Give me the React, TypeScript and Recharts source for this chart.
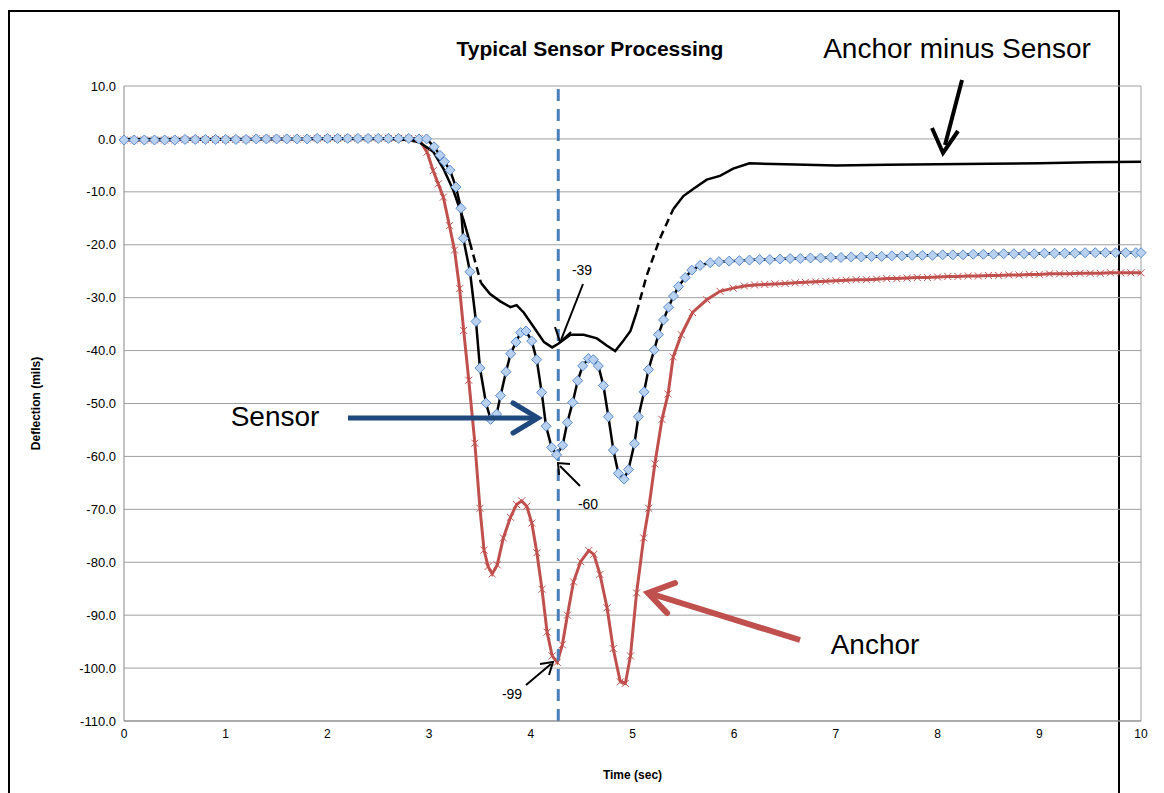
import React from "react";
import { LineChart, Line, XAxis, YAxis, CartesianGrid, ReferenceLine } from "recharts";

const flatT = [0,0.1,0.2,0.3,0.4,0.5,0.6,0.7,0.8,0.9,1,1.1,1.2,1.3,1.4,1.5,1.6,1.7,1.8,1.9,2,2.1,2.2,2.3,2.4,2.5,2.6,2.7,2.8,2.9];
const flatV = [0,0,0,0,0,0,0.1,0.1,0.1,0.1,0.1,0.1,0.1,0.2,0.2,0.2,0.2,0.2,0.2,0.3,0.3,0.3,0.3,0.3,0.3,0.3,0.3,0.3,0.3,0.2];

const sensorT = [2.975,3.05,3.107,3.15,3.205,3.264,3.313,3.336,3.402,3.461,3.5,3.559,3.605,3.664,3.703,3.756,3.802,3.854,3.9,3.953,4.009,4.058,4.107,4.15,4.205,4.254,4.313,4.359,4.412,4.461,4.51,4.566,4.615,4.664,4.714,4.763,4.812,4.861,4.917,4.96,5.019,5.058,5.114,5.157,5.213,5.255,5.305,5.354,5.403,5.452,5.518,5.583,5.665,5.764,5.85,5.95,6.05,6.15,6.25,6.35,6.45,6.55,6.65,6.75,6.85,6.95,7.05,7.15,7.25,7.35,7.45,7.55,7.65,7.75,7.85,7.95,8.05,8.15,8.25,8.35,8.45,8.55,8.65,8.75,8.85,8.95,9.05,9.15,9.25,9.35,9.45,9.55,9.65,9.75,9.85,9.95,10];
const sensorV = [0,-1.5,-3.1,-4.3,-5.9,-9.1,-13.1,-18.8,-25.1,-34.5,-43.3,-49.9,-53.0,-52.0,-48.5,-44.0,-40.6,-38.4,-36.6,-36.3,-38.2,-41.7,-47.9,-54.3,-58.3,-59.7,-57.9,-53.6,-49.8,-45.7,-42.9,-41.5,-41.7,-42.9,-46.6,-52.5,-58.8,-63.2,-64.3,-62.5,-57.6,-52.5,-47.8,-43.6,-39.9,-37.0,-34.2,-31.8,-29.7,-27.9,-26.2,-24.8,-23.9,-23.4,-23.2,-23.1,-23.0,-22.9,-22.8,-22.8,-22.7,-22.6,-22.6,-22.5,-22.5,-22.4,-22.4,-22.3,-22.3,-22.2,-22.2,-22.1,-22.1,-22.0,-22.0,-22.0,-21.9,-21.9,-21.9,-21.8,-21.8,-21.8,-21.7,-21.7,-21.7,-21.7,-21.6,-21.6,-21.6,-21.6,-21.5,-21.5,-21.5,-21.5,-21.5,-21.5,-21.5];

const anchorT = [2.9,2.98,3.04,3.09,3.14,3.2,3.25,3.3,3.34,3.39,3.45,3.5,3.54,3.58,3.62,3.67,3.73,3.8,3.86,3.91,3.96,4.01,4.06,4.11,4.16,4.21,4.26,4.31,4.36,4.42,4.49,4.57,4.62,4.68,4.75,4.81,4.88,4.93,4.98,5.04,5.11,5.16,5.22,5.29,5.35,5.4,5.48,5.59,5.73,5.86,5.99,6.1,6.2,6.3,6.4,6.5,6.6,6.7,6.8,6.9,7,7.1,7.2,7.3,7.4,7.5,7.6,7.7,7.8,7.9,8,8.1,8.2,8.3,8.4,8.5,8.6,8.7,8.8,8.9,9,9.1,9.2,9.3,9.4,9.5,9.6,9.7,9.8,9.9,10];
const anchorV = [0,-2.5,-6,-8.5,-11,-16.4,-21,-28.3,-36.2,-45.6,-57.5,-69.8,-77.7,-80.8,-82.2,-80.5,-75.4,-71.5,-69.1,-68.4,-69.4,-72.6,-78.2,-85.1,-93.2,-97.7,-98.9,-95.6,-90.0,-83.7,-79.9,-77.8,-78.5,-82.3,-88.6,-96.3,-102.6,-102.9,-97.7,-85.8,-75.4,-69.8,-61.4,-53.0,-48.2,-41.2,-37.0,-32.8,-30.4,-28.8,-28.2,-27.8,-27.6,-27.5,-27.4,-27.3,-27.2,-27.1,-27.0,-26.9,-26.8,-26.7,-26.6,-26.6,-26.5,-26.4,-26.4,-26.3,-26.2,-26.2,-26.1,-26.0,-26.0,-25.9,-25.9,-25.8,-25.8,-25.7,-25.7,-25.6,-25.6,-25.5,-25.5,-25.5,-25.4,-25.4,-25.4,-25.3,-25.3,-25.3,-25.3];

const diffT = [0,1,2,2.6,2.8,2.91,3.04,3.14,3.24,3.34,3.4,null,3.51,3.6,3.7,3.8,3.86,3.93,4.03,4.13,4.21,4.27,4.39,4.52,4.65,4.75,4.83,4.9,4.98,5.04,null,5.4,5.5,5.6,5.73,5.86,5.99,6.15,6.5,7,7.5,8,8.5,9,9.5,10];
const diffV = [0,0,0,0,-0.2,-0.7,-2.4,-5.6,-9.8,-15.4,-19.5,null,-27.2,-29.3,-30.7,-31.8,-31.4,-32.8,-35.6,-38.4,-39.4,-38.7,-37.0,-37.0,-37.7,-39.1,-40.1,-38.4,-36.3,-32.8,null,-13.3,-10.8,-9.4,-7.7,-7.0,-5.6,-4.6,-4.8,-5.0,-4.9,-4.8,-4.7,-4.6,-4.4,-4.3];
const dashT = [3.4,3.47,3.51,5.04,5.14,5.27,5.4];
const dashV = [-19.5,-24.4,-27.2,-32.8,-25.8,-18.8,-13.3];

const yTicks = [10,0,-10,-20,-30,-40,-50,-60,-70,-80,-90,-100,-110];
const xTicks = [0,1,2,3,4,5,6,7,8,9,10];
const markT = 4.27;

const zip = (ts: any[], vs: any[]) => ts.map((t, i) => ({ t, v: vs[i] }));
const sensorData = [...zip(flatT, flatV.map(v => v - 0.2)), ...zip(sensorT, sensorV)];
const anchorData = [...zip(flatT, flatV.map(v => v - 0.2)), ...zip(anchorT, anchorV)];
const diffSolid = zip(diffT, diffV).map((d, i) => (d.t === null ? { t: (diffT[i - 1] as number) + 0.01, v: null } : d));
const dashData = [...zip(dashT.slice(0, 3), dashV.slice(0, 3)), { t: 4, v: null }, ...zip(dashT.slice(3), dashV.slice(3))];

const Diamond = (p: any) => {
  if (p.cx == null || p.cy == null || p.value == null) return null;
  const s = 5;
  return <path key={p.index} d={`M${p.cx},${p.cy - s}L${p.cx + s},${p.cy}L${p.cx},${p.cy + s}L${p.cx - s},${p.cy}Z`} fill="#b9d1f0" stroke="#5b8ccc" strokeWidth={1} />;
};
const Cross = (p: any) => {
  if (p.cx == null || p.cy == null || p.value == null) return null;
  const s = 3.5;
  return <path key={p.index} d={`M${p.cx - s},${p.cy - s}L${p.cx + s},${p.cy + s}M${p.cx - s},${p.cy + s}L${p.cx + s},${p.cy - s}`} stroke="#c0504d" strokeWidth={1} />;
};

const font = "'Liberation Sans', Arial, sans-serif";

export default function App() {
  return (
    <div style={{ position: "absolute", left: 0, top: 0, width: 1164, height: 793, background: "#fff", fontFamily: font, overflow: "hidden" }}>
      <div style={{ position: "absolute", left: 8, top: 10, width: 1108, height: 800, border: "2px solid #000" }} />
      <div style={{ position: "absolute", left: 0, top: 0 }}>
        <LineChart width={1164} height={793} margin={{ top: 86, right: 23, bottom: 42, left: 0 }}>
          <CartesianGrid vertical={false} stroke="#a0a0a0" />
          <XAxis dataKey="t" type="number" domain={[0, 10]} ticks={xTicks} allowDuplicatedCategory={false} stroke="#888" tick={{ fill: "#000", fontSize: 12, fontFamily: font }} tickLine={false} height={30}
            label={{ value: "Time (sec)", position: "insideBottom", offset: -28, style: { fontWeight: "bold", fontSize: 12, fill: "#000" } }} />
          <YAxis type="number" domain={[-110, 10]} ticks={yTicks} tickFormatter={(v: number) => v.toFixed(1)} stroke="#888" tick={{ fill: "#000", fontSize: 13, fontFamily: font }} tickLine={false} width={124}
            label={{ value: "Deflection (mils)", angle: -90, position: "insideLeft", offset: 36, style: { fontWeight: "bold", fontSize: 12, fill: "#000", textAnchor: "middle" } }} />
          <ReferenceLine x={10} stroke="#a0a0a0" />
          <Line data={anchorData} dataKey="v" stroke="#c0504d" strokeWidth={3} dot={Cross} isAnimationActive={false} />
          <Line data={sensorData} dataKey="v" stroke="#000" strokeWidth={2.5} dot={Diamond} isAnimationActive={false} />
          <Line data={diffSolid} dataKey="v" stroke="#000" strokeWidth={2.5} dot={false} connectNulls={false} isAnimationActive={false} />
          <Line data={dashData} dataKey="v" stroke="#000" strokeWidth={2.5} strokeDasharray="8 5" dot={false} connectNulls={false} isAnimationActive={false} />
          <ReferenceLine x={markT} stroke="#4a7ebb" strokeWidth={3} strokeDasharray="12 8" />
        </LineChart>
      </div>
      <svg width={1164} height={793} style={{ position: "absolute", left: 0, top: 0, pointerEvents: "none" }}>
        <text x={590} y={56} textAnchor="middle" fontSize={21} fontWeight="bold" fontFamily={font}>Typical Sensor Processing</text>
        <text x={957} y={58} textAnchor="middle" fontSize={28} fontFamily={font}>Anchor minus  Sensor</text>
        <text x={275} y={426} textAnchor="middle" fontSize={28} fontFamily={font}>Sensor</text>
        <text x={875} y={654} textAnchor="middle" fontSize={28} fontFamily={font}>Anchor</text>
        <text x={582} y={275} textAnchor="middle" fontSize={14} fontFamily={font}>-39</text>
        <text x={588} y={509} textAnchor="middle" fontSize={14} fontFamily={font}>-60</text>
        <text x={512} y={699} textAnchor="middle" fontSize={14} fontFamily={font}>-99</text>
        <line x1={962} y1={80} x2={945} y2={145} stroke="#000" strokeWidth={4} />
        <path d="M932,128 L943,153 L958,131" fill="none" stroke="#000" strokeWidth={4} />
        <line x1={348} y1={418} x2={535} y2={418} stroke="#1f497d" strokeWidth={5} />
        <path d="M513,403 L538,418 L513,433" fill="none" stroke="#1f497d" strokeWidth={5} strokeLinecap="round" />
        <line x1={800} y1={640} x2={652} y2={594} stroke="#c0504d" strokeWidth={6} />
        <path d="M675,583 L648,593 L667,613" fill="none" stroke="#c0504d" strokeWidth={6} strokeLinecap="round" />
        <line x1={583} y1={284} x2={561} y2={340} stroke="#000" strokeWidth={2} />
        <path d="M555,327 L560,342 L571,332" fill="none" stroke="#000" strokeWidth={2} />
        <line x1={580} y1={486} x2={560} y2={466} stroke="#000" strokeWidth={2} />
        <path d="M559,475 L558,463 L570,464" fill="none" stroke="#000" strokeWidth={2} />
        <line x1={526} y1={685} x2={551} y2={664} stroke="#000" strokeWidth={2} />
        <path d="M540,664 L553,662 L549,675" fill="none" stroke="#000" strokeWidth={2} />
      </svg>
    </div>
  );
}
